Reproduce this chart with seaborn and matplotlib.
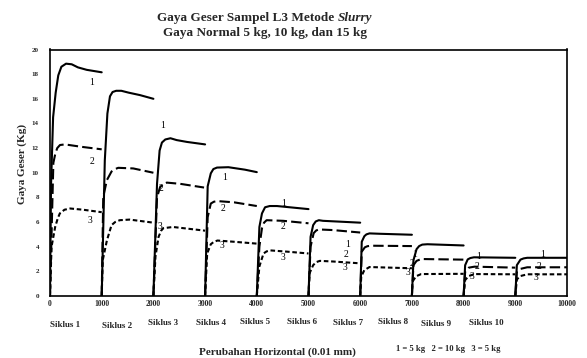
import matplotlib
matplotlib.use("Agg")
import matplotlib.pyplot as plt
import seaborn as sns
import pandas as pd
import numpy as np

# ---- data ----
cycle_names = ["Siklus 1", "Siklus 2", "Siklus 3", "Siklus 4", "Siklus 5",
               "Siklus 6", "Siklus 7", "Siklus 8", "Siklus 9", "Siklus 10"]

# curve 1 (solid) per cycle
c1_x = [[0, 20, 60, 110, 160, 220, 310, 420, 540, 710, 1000],
        [1000, 1060, 1110, 1160, 1210, 1280, 1380, 1520, 1740, 2000],
        [2000, 2070, 2120, 2165, 2230, 2330, 2450, 2650, 3000],
        [3000, 3050, 3110, 3160, 3230, 3450, 3770, 4000],
        [4000, 4050, 4100, 4160, 4250, 4390, 5000],
        [5000, 5040, 5090, 5140, 5200, 5280, 6000],
        [6000, 6030, 6080, 6120, 6180, 6370, 7000],
        [7000, 7030, 7090, 7140, 7200, 7300, 8000],
        [8000, 8030, 8080, 8130, 8200, 9000],
        [9000, 9030, 9100, 9160, 9230, 10000]]
c1_y = [[0, 9.0, 14.5, 16.5, 17.9, 18.6, 18.85, 18.8, 18.55, 18.35, 18.15],
        [0, 11.0, 14.8, 16.2, 16.55, 16.65, 16.65, 16.5, 16.3, 16.0],
        [0, 9.1, 11.8, 12.45, 12.7, 12.8, 12.65, 12.5, 12.3],
        [0, 8.9, 9.95, 10.3, 10.42, 10.45, 10.25, 10.05],
        [0, 5.6, 6.7, 7.2, 7.3, 7.3, 7.05],
        [0, 4.8, 5.75, 6.05, 6.15, 6.1, 5.95],
        [0, 4.4, 4.85, 5.0, 5.08, 5.05, 4.97],
        [0, 2.9, 3.8, 4.05, 4.17, 4.2, 4.1],
        [0, 2.5, 2.97, 3.08, 3.14, 3.1],
        [0, 2.5, 2.95, 3.05, 3.1, 3.1]]

# curve 2 (long dashes)
c2_x = [[0, 65, 100, 140, 193, 290, 615, 1000],
        [1000, 1030, 1100, 1190, 1260, 1320, 1610, 2000],
        [2000, 2070, 2130, 2200, 2260, 2520, 2980],
        [3000, 3050, 3110, 3170, 3240, 3560, 4000],
        [4000, 4050, 4100, 4140, 4190, 4510, 5000],
        [5000, 5040, 5100, 5150, 5200, 5470, 6000],
        [6000, 6030, 6090, 6140, 6210, 7000],
        [7000, 7030, 7090, 7180, 8000],
        [8000, 8030, 8100, 8210, 9000],
        [9000, 9030, 9100, 9230, 10000]]
c2_y = [[0, 10.8, 11.5, 12.0, 12.25, 12.3, 12.1, 11.9],
        [0, 8.05, 9.4, 10.1, 10.3, 10.4, 10.35, 10.0],
        [0, 8.0, 8.85, 9.1, 9.2, 9.1, 8.8],
        [0, 6.4, 7.5, 7.65, 7.7, 7.6, 7.3],
        [0, 4.0, 5.5, 5.95, 6.15, 6.1, 5.9],
        [0, 4.0, 5.1, 5.32, 5.4, 5.35, 5.15],
        [0, 3.6, 3.95, 4.04, 4.08, 4.05],
        [0, 2.5, 2.85, 3.0, 2.95],
        [0, 1.97, 2.3, 2.38, 2.3],
        [0, 1.97, 2.2, 2.33, 2.33]]

# curve 3 (short dashes)
c3_x = [[0, 30, 100, 150, 190, 280, 390, 640, 1000],
        [1000, 1020, 1100, 1190, 1260, 1350, 1540, 2000],
        [2000, 2040, 2100, 2150, 2190, 2380, 3000],
        [3000, 3040, 3110, 3170, 3240, 3560, 4000],
        [4000, 4050, 4130, 4190, 4260, 4580, 5000],
        [5000, 5020, 5090, 5150, 5220, 5470, 6000],
        [6000, 6020, 6080, 6180, 7000],
        [7000, 7010, 7080, 7180, 8000],
        [8000, 8030, 8100, 8210, 9000],
        [9000, 9030, 9100, 9230, 10000]]
c3_y = [[0, 4.0, 5.6, 6.3, 6.7, 7.0, 7.1, 7.0, 6.8],
        [0, 2.9, 4.5, 5.75, 6.0, 6.15, 6.2, 5.95],
        [0, 3.2, 4.8, 5.3, 5.5, 5.6, 5.3],
        [0, 3.45, 4.2, 4.4, 4.5, 4.4, 4.25],
        [0, 2.4, 3.45, 3.62, 3.7, 3.6, 3.45],
        [0, 1.84, 2.5, 2.75, 2.85, 2.8, 2.65],
        [0, 1.57, 2.1, 2.35, 2.25],
        [0, 1.16, 1.6, 1.78, 1.8],
        [0, 1.3, 1.62, 1.78, 1.76],
        [0, 1.35, 1.62, 1.76, 1.76]]

# curve number annotations
label_text = ["1", "2", "3", "1", "2", "3", "1", "2", "3", "1", "2", "3",
              "1", "2", "3", "1", "2", "3", "1", "2", "3", "1", "2", "3"]
label_x = [810, 810, 780, 2170, 2150, 2130, 3370, 3340, 3320, 4510, 4510, 4500,
           5760, 5730, 5700, 7060, 7000, 6920, 8300, 8260, 8170, 9520, 9460, 9400]
label_y = [17.3, 10.9, 6.1, 13.8, 8.7, 5.6, 9.6, 7.1, 4.1, 7.5, 5.6, 3.1,
           4.2, 3.4, 2.3, 3.4, 2.6, 1.9, 3.2, 2.4, 1.6, 3.4, 2.4, 1.5]

x_ticks = list(range(0, 10001, 1000))
y_ticks = list(range(0, 21, 2))

# ---- build long-form table ----
rows = []
for curve, xs, ys in (("1", c1_x, c1_y), ("2", c2_x, c2_y), ("3", c3_x, c3_y)):
    for ci, (xx, yy) in enumerate(zip(xs, ys)):
        for a, b in zip(xx, yy):
            rows.append({"x": a, "y": b, "curve": curve, "unit": f"{curve}-{ci}"})
df = pd.DataFrame(rows)

sns.set_theme(style="white")
plt.rcParams["font.family"] = ["Liberation Serif", "DejaVu Serif"]

fig = plt.figure(figsize=(5.87, 3.58), dpi=100)
ax = fig.add_axes([50 / 587, 1 - 296 / 358, 517 / 587, (296 - 49.5) / 358])

sns.lineplot(data=df, x="x", y="y", style="curve", units="unit",
             estimator=None, sort=False, color="black", linewidth=1.5,
             dashes={"1": "", "2": (5, 2), "3": (2.2, 1.3)},
             legend=False, ax=ax)

ax.set_xlim(0, 10000)
ax.set_ylim(0, 20)
ax.set_xticks(x_ticks)
ax.set_yticks(y_ticks)
ax.set_xticklabels([str(v) for v in x_ticks], fontsize=5.5, fontweight="bold")
ax.set_yticklabels([str(v) for v in y_ticks], fontsize=5, fontweight="bold")
ax.tick_params(axis="x", direction="in", length=4, width=1, pad=3, color="black")
ax.tick_params(axis="y", length=0, pad=8)
ax.set_xlabel("")
ax.set_ylabel("")
for s in ax.spines.values():
    s.set_color("black")
    s.set_linewidth(1.2)

for t, xv, yv in zip(label_text, label_x, label_y):
    ax.text(xv, yv, t, fontsize=7, ha="center", va="center", color="black")

# titles
fig.canvas.draw()
r = fig.canvas.get_renderer()
ty1 = 1 - 18 / 358
part1 = fig.text(0, ty1, "Gaya Geser Sampel L3 Metode ", fontsize=9.5,
                 fontweight="bold", ha="left", va="center")
part2 = fig.text(0, ty1, "Slurry", fontsize=9.5, fontweight="bold",
                 fontstyle="italic", ha="left", va="center")
w1 = part1.get_window_extent(r).width / fig.bbox.width
w2 = part2.get_window_extent(r).width / fig.bbox.width
cx = 265 / 587
part1.set_x(cx - (w1 + w2) / 2)
part2.set_x(cx - (w1 + w2) / 2 + w1)
fig.text(cx, 1 - 33 / 358, "Gaya Normal 5 kg, 10 kg, dan 15 kg", fontsize=9.5,
         fontweight="bold", ha="center", va="center")

# cycle labels
cyc_px = [65, 117, 163, 211, 255, 302, 348, 393, 436, 486]
cyc_py = [325, 326, 323, 323, 322, 322, 323, 322, 324, 323]
for name, px, py in zip(cycle_names, cyc_px, cyc_py):
    fig.text(px / 587, 1 - py / 358, name, fontsize=6.5, fontweight="bold",
             ha="center", va="center")

fig.text(277 / 587, 1 - 352 / 358, "Perubahan Horizontal (0.01 mm)", fontsize=8,
         fontweight="bold", ha="center", va="center")
fig.text(448 / 587, 1 - 349 / 358, "1 = 5 kg   2 = 10 kg   3 = 5 kg", fontsize=6.2,
         fontweight="bold", ha="center", va="center")
fig.text(22 / 587, 1 - 164 / 358, "Gaya Geser (Kg)", fontsize=8, fontweight="bold",
         rotation=90, ha="center", va="center")

fig.savefig("out.png", dpi=100, facecolor="white")
